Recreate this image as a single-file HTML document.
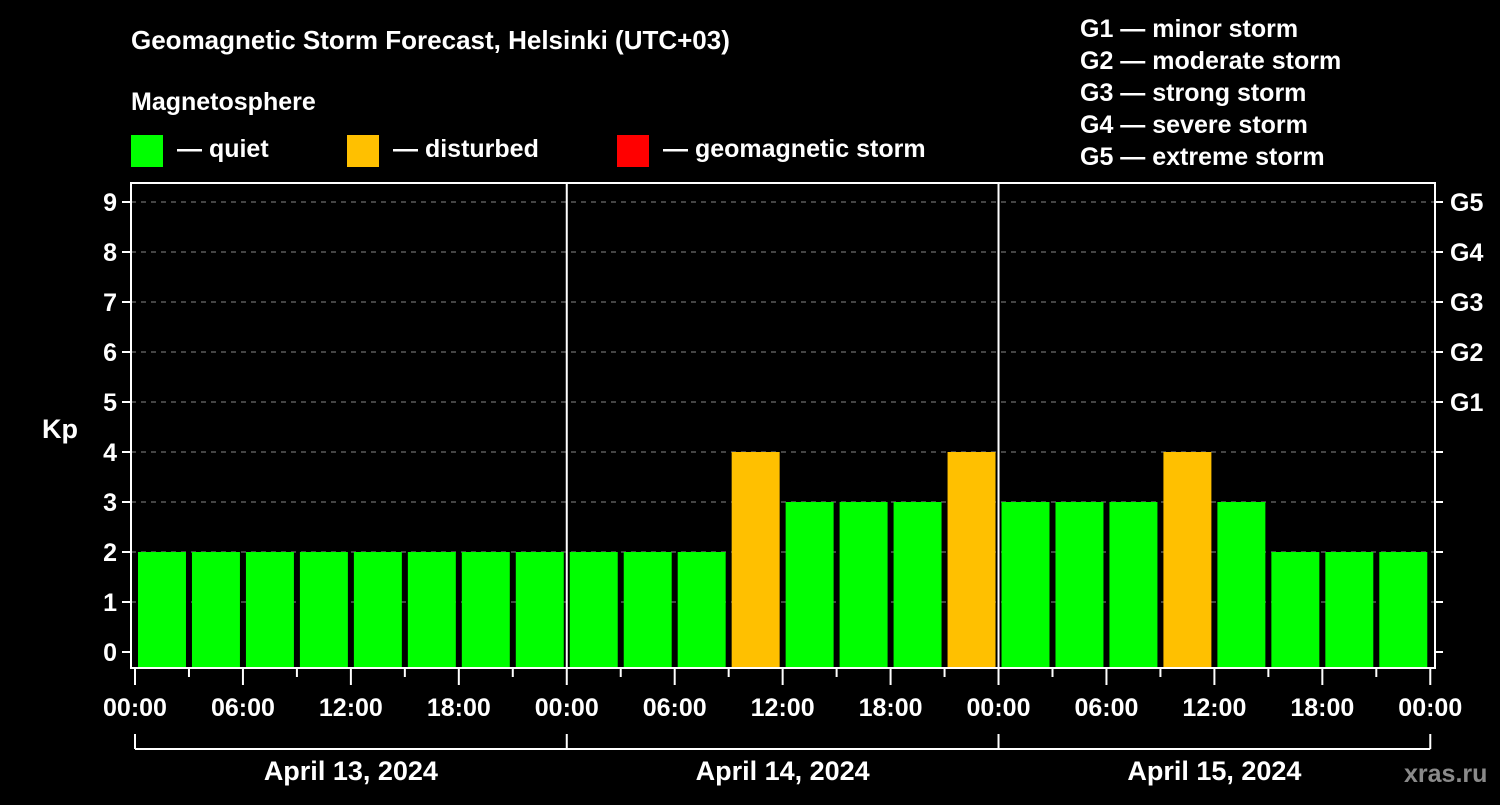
<!DOCTYPE html>
<html><head><meta charset="utf-8"><style>
body{margin:0;background:#000;width:1500px;height:800px;overflow:hidden;font-family:"Liberation Sans",Arial,sans-serif}
svg text{font-family:"Liberation Sans",Arial,sans-serif;font-weight:bold;fill:#fff}
</style></head><body>
<svg id="c" width="1500" height="800">
<text x="131" y="49" font-size="26">Geomagnetic Storm Forecast, Helsinki (UTC+03)</text>
<text x="131" y="110" font-size="25">Magnetosphere</text>
<g><rect x="131" y="135" width="32" height="32" fill="#00ff00"/><text x="177" y="157" font-size="25">— quiet</text></g>
<g><rect x="347" y="135" width="32" height="32" fill="#ffc000"/><text x="393" y="157" font-size="25">— disturbed</text></g>
<g><rect x="617" y="135" width="32" height="32" fill="#ff0000"/><text x="663" y="157" font-size="25">— geomagnetic storm</text></g>
<g font-size="25">
<text x="1080" y="37">G1 — minor storm</text><text x="1080" y="69">G2 — moderate storm</text><text x="1080" y="101">G3 — strong storm</text><text x="1080" y="133">G4 — severe storm</text><text x="1080" y="165">G5 — extreme storm</text></g>
<text x="42" y="438" font-size="27">Kp</text>
<text x="1404" y="782" font-size="25" fill="#888" style="fill:#8a8a8a">xras.ru</text>
<g id="plot"></g>
</svg>
<script>
const kpValues=[2,2,2,2,2,2,2,2,2,2,2,4,3,3,3,4,3,3,3,4,3,2,2,2];
const yTicks=[0,1,2,3,4,5,6,7,8,9];
const gLabels=["G1","G2","G3","G4","G5"];
const xTickLabels=["00:00","06:00","12:00","18:00"];
const dayLabels=["April 13, 2024","April 14, 2024","April 15, 2024"];
const NS="http://www.w3.org/2000/svg";
const L=131,R=1435,T=183,B=668;
const xh=h=>135+h*17.99;
const yv=v=>652-50*v;
const g=document.getElementById('plot');
function mk(t,a,p){const e=document.createElementNS(NS,t);for(const k in a)e.setAttribute(k,a[k]);(p||g).appendChild(e);return e;}
yTicks.forEach(v=>{
  if(v>0){const l=mk('line',{x1:L,x2:R,y1:yv(v),y2:yv(v),stroke:'#888','stroke-dasharray':'5,5','stroke-width':1});
  
  }
  mk('line',{x1:L-9,x2:L,y1:yv(v),y2:yv(v),stroke:'#fff','stroke-width':2});
  mk('line',{x1:R,x2:R+8,y1:yv(v),y2:yv(v),stroke:'#fff','stroke-width':2});
  const t=mk('text',{x:L-14,y:yv(v)+9,'font-size':25,'text-anchor':'end'});t.textContent=v;
  
  
});
gLabels.forEach((s,i)=>{const t=mk('text',{x:1450,y:yv(i+5)+9,'font-size':25});t.textContent=s;
  
  });
kpValues.forEach((v,i)=>{
  const x0=xh(3*i)+3,x1=xh(3*i+3)-3;
  const r=mk('rect',{x:x0,y:yv(v),width:x1-x0,height:B-yv(v),fill:v>=5?'#ff0000':v>=4?'#ffc000':'#00ff00'});
  
  
});
[1,2].forEach(d=>mk('line',{x1:xh(24*d),x2:xh(24*d),y1:T,y2:B,stroke:'#fff','stroke-width':2}));
const fr=mk('rect',{x:L,y:T,width:R-L,height:B-T,fill:'none',stroke:'#fff','stroke-width':2});


for(let h=0;h<=72;h+=3){
  const major=h%6==0;
  mk('line',{x1:xh(h),x2:xh(h),y1:B,y2:major?B+17:B+9,stroke:'#fff','stroke-width':2});
  if(major&&(h%24==0||h%6==0)){
    const t=mk('text',{x:xh(h),y:716,'font-size':25,'text-anchor':'middle'});
    t.textContent=xTickLabels[(h%24)/6];
    
    
  }
}
mk('line',{x1:xh(0),x2:xh(72),y1:749,y2:749,stroke:'#fff','stroke-width':2});
for(let d=0;d<=3;d++)mk('line',{x1:xh(24*d),x2:xh(24*d),y1:734,y2:749,stroke:'#fff','stroke-width':2});
dayLabels.forEach((s,i)=>{const t=mk('text',{x:xh(24*i+12),y:780,'font-size':27,'text-anchor':'middle'});t.textContent=s;
  
  });
</script>
</body></html>
